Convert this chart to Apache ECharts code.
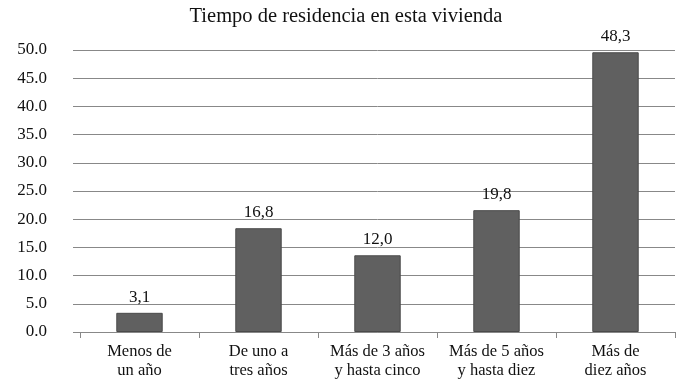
<!DOCTYPE html>
<html><head><meta charset="utf-8">
<script src="https://cdn.jsdelivr.net/npm/echarts@6/dist/echarts.min.js"></script>
<style>html,body{margin:0;padding:0;background:#fff}#c{width:700px;height:388px}</style>
</head><body><div id="c"></div>
<script>
const title = 'Tiempo de residencia en esta vivienda';
const categories = ['Menos de\nun año', 'De uno a\ntres años', 'Más de 3 años\ny hasta cinco', 'Más de 5 años\ny hasta diez', 'Más de\ndiez años'];
// bar heights as drawn in the picture
const barValues = [3.4, 18.4, 13.6, 21.6, 49.6];
// value labels printed above the bars
const valueLabels = ['3,1', '16,8', '12,0', '19,8', '48,3'];
const yTicks = [0, 5, 10, 15, 20, 25, 30, 35, 40, 45, 50];

const font = '"Liberation Serif", "DejaVu Serif", serif';
const chart = echarts.init(document.getElementById('c'), null, {renderer: 'canvas'});
chart.setOption({
  animation: false,
  backgroundColor: '#fff',
  title: {text: title, left: 341, top: 1, textAlign: 'center',
    textStyle: {fontFamily: font, fontSize: 20.5, fontWeight: 'normal', color: '#111'}},
  grid: {left: 80, right: 25, top: 50, bottom: 56},
  xAxis: {type: 'category', data: categories,
    axisLine: {lineStyle: {color: '#888', width: 1}},
    axisTick: {show: true, length: 6, lineStyle: {color: '#888'}},
    axisLabel: {interval: 0, hideOverlap: false, fontFamily: font, fontSize: 16.5, color: '#111', lineHeight: 19, margin: 10}},
  yAxis: {type: 'value', min: yTicks[0], max: yTicks[yTicks.length - 1], interval: 5,
    axisLine: {show: false},
    axisTick: {show: true, length: 7, lineStyle: {color: '#888'}},
    splitLine: {lineStyle: {color: '#888', width: 1}},
    axisLabel: {fontFamily: font, fontSize: 17, color: '#111', margin: 33,
      formatter: v => v.toFixed(1)}},
  series: [{type: 'bar', data: barValues, barWidth: '39%',
    itemStyle: {color: '#606060', borderColor: '#4a4a4a', borderWidth: 1},
    label: {show: true, position: 'top', distance: 7, fontFamily: font, fontSize: 17, color: '#111',
      formatter: p => valueLabels[p.dataIndex]}}]
});
</script></body></html>
